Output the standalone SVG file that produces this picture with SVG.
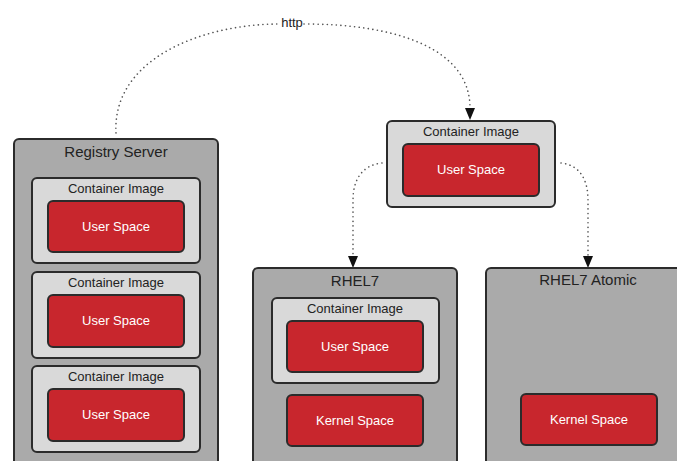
<svg xmlns="http://www.w3.org/2000/svg" width="677" height="461" viewBox="0 0 677 461">
<style>
.outer{fill:#aaaaaa;stroke:#2b2b2b;stroke-width:2}
.img{fill:#d9d9d9;stroke:#2b2b2b;stroke-width:2}
.red{fill:#c8262d;stroke:#2b2b2b;stroke-width:2}
.t{font-family:"Liberation Sans",Arial,sans-serif;fill:#222;text-anchor:middle}
.title{font-size:15px}
.lbl{font-size:13px}
.w{font-family:"Liberation Sans",Arial,sans-serif;fill:#fff;font-size:13px;text-anchor:middle}
.dot{fill:none;stroke:#555;stroke-width:1.6;stroke-dasharray:0.1 4.5;stroke-linecap:round}
</style>
<defs>
<marker id="ah" markerWidth="10" markerHeight="12" refX="5" refY="11" orient="auto" markerUnits="userSpaceOnUse" viewBox="0 0 10 12">
<path d="M0,0 L10,0 L5,12 Z" fill="#111"/>
</marker>
</defs>
<rect width="677" height="461" fill="#fff"/>
<g id="connectors">
<path class="dot" d="M116,133 C112,60 200,24 280,24"/>
<path class="dot" d="M304,24 C400,24 470,50 470,108"/>
<path d="M465,108 L475,108 L470,120 Z" fill="#111"/>
<path class="dot" d="M382,163 C362,165 353,180 353,200 L353,256"/>
<path d="M348,256 L358,256 L353,268 Z" fill="#111"/>
<path class="dot" d="M561,163 C580,165 588,180 588,200 L588,256"/>
<path d="M583,256 L593,256 L588,268 Z" fill="#111"/>
<text class="t lbl" x="292" y="27">http</text>
</g>
<g id="registry">
<rect class="outer" x="14" y="139" width="204" height="340" rx="5"/>
<text class="t title" x="116" y="157">Registry Server</text>
<g id="reg-img1">
<rect class="img" x="32" y="178" width="168" height="85" rx="5"/>
<text class="t lbl" x="116" y="193">Container Image</text>
<rect class="red" x="48" y="201" width="136" height="51" rx="5"/>
<text class="w" x="116" y="231">User Space</text>
</g>
<g id="reg-img2">
<rect class="img" x="32" y="272" width="168" height="86" rx="5"/>
<text class="t lbl" x="116" y="287">Container Image</text>
<rect class="red" x="48" y="295" width="136" height="52" rx="5"/>
<text class="w" x="116" y="325">User Space</text>
</g>
<g id="reg-img3">
<rect class="img" x="32" y="366" width="168" height="86" rx="5"/>
<text class="t lbl" x="116" y="381">Container Image</text>
<rect class="red" x="48" y="389" width="136" height="52" rx="5"/>
<text class="w" x="116" y="419">User Space</text>
</g>
</g>
<g id="top-image">
<rect class="img" x="387" y="121" width="168" height="86" rx="5"/>
<text class="t lbl" x="471" y="136">Container Image</text>
<rect class="red" x="403" y="144" width="136" height="52" rx="5"/>
<text class="w" x="471" y="174">User Space</text>
</g>
<g id="rhel7">
<rect class="outer" x="253" y="268" width="204" height="210" rx="5"/>
<text class="t title" x="355" y="286">RHEL7</text>
<g id="rhel7-img">
<rect class="img" x="272" y="298" width="167" height="85" rx="5"/>
<text class="t lbl" x="355" y="313">Container Image</text>
<rect class="red" x="287" y="321" width="136" height="51" rx="5"/>
<text class="w" x="355" y="351">User Space</text>
</g>
<rect class="red" x="287" y="395" width="136" height="51" rx="5"/>
<text class="w" x="355" y="425">Kernel Space</text>
</g>
<g id="atomic">
<rect class="outer" x="486" y="268" width="204" height="210" rx="5"/>
<text class="t title" x="588" y="285">RHEL7 Atomic</text>
<rect class="red" x="521" y="394" width="136" height="51" rx="5"/>
<text class="w" x="589" y="424">Kernel Space</text>
</g>
</svg>
